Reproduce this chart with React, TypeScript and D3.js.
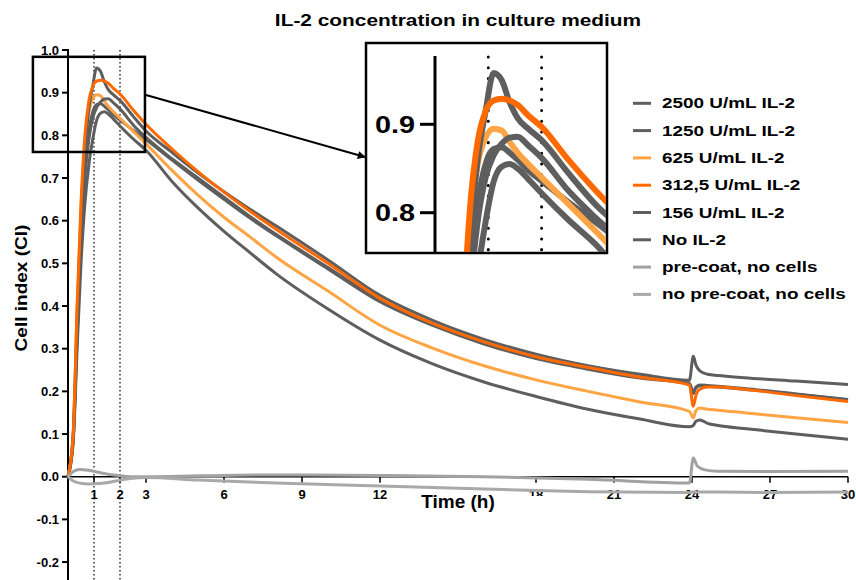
import React from "react";
import * as d3 from "d3";

// time points (h) for the cell wells
const timeH = [0, 0.2, 0.35, 0.5, 0.65, 0.8, 0.95, 1.1, 1.25, 1.4, 1.55, 1.75, 2, 2.5, 3, 4, 5, 6, 7, 8, 10, 12, 14, 16, 18, 20, 22, 23.9, 24.05, 24.15, 24.3, 24.6, 25, 26, 28, 30];

const il2_2500 = [0, 0.1, 0.37, 0.6, 0.76, 0.86, 0.915, 0.958, 0.95, 0.925, 0.907, 0.895, 0.882, 0.845, 0.81, 0.76, 0.712, 0.668, 0.627, 0.588, 0.508, 0.425, 0.367, 0.322, 0.287, 0.26, 0.24, 0.226, 0.282, 0.262, 0.248, 0.24, 0.237, 0.232, 0.224, 0.216];
const il2_1250 = [0, 0.09, 0.33, 0.55, 0.7, 0.79, 0.84, 0.865, 0.878, 0.885, 0.886, 0.876, 0.862, 0.825, 0.795, 0.745, 0.7, 0.655, 0.61, 0.568, 0.49, 0.413, 0.357, 0.313, 0.279, 0.254, 0.233, 0.219, 0.195, 0.21, 0.215, 0.214, 0.212, 0.207, 0.194, 0.181];
const il2_625 = [0, 0.1, 0.39, 0.63, 0.78, 0.855, 0.885, 0.895, 0.893, 0.88, 0.868, 0.855, 0.84, 0.81, 0.78, 0.718, 0.66, 0.608, 0.562, 0.515, 0.435, 0.355, 0.302, 0.26, 0.227, 0.2, 0.175, 0.153, 0.138, 0.155, 0.161, 0.158, 0.156, 0.15, 0.138, 0.127];
const il2_312 = [0, 0.1, 0.4, 0.64, 0.8, 0.88, 0.915, 0.927, 0.929, 0.927, 0.922, 0.91, 0.897, 0.86, 0.826, 0.768, 0.715, 0.667, 0.622, 0.58, 0.5, 0.418, 0.36, 0.316, 0.281, 0.256, 0.233, 0.215, 0.165, 0.19, 0.205, 0.21, 0.21, 0.205, 0.19, 0.176];
const il2_156 = [0, 0.09, 0.34, 0.57, 0.72, 0.81, 0.855, 0.872, 0.874, 0.868, 0.86, 0.848, 0.836, 0.812, 0.79, 0.742, 0.695, 0.65, 0.606, 0.565, 0.487, 0.41, 0.355, 0.311, 0.277, 0.252, 0.231, 0.217, 0.2, 0.208, 0.213, 0.212, 0.21, 0.205, 0.193, 0.18];
const noIl2 = [0, 0.08, 0.3, 0.5, 0.64, 0.73, 0.79, 0.835, 0.852, 0.855, 0.85, 0.838, 0.822, 0.792, 0.765, 0.692, 0.63, 0.575, 0.525, 0.476, 0.393, 0.32, 0.265, 0.222, 0.188, 0.158, 0.135, 0.117, 0.12, 0.13, 0.133, 0.125, 0.12, 0.113, 0.1, 0.088];

// time points (h) for the cell-free controls
const ctrlTime = [0, 0.2, 0.45, 0.8, 1.2, 1.6, 2, 2.4, 3, 5, 8, 12, 16, 20, 23.9, 24.05, 24.2, 24.5, 25, 27, 30];
const preCoat = [0, 0.012, 0.017, 0.015, 0.01, 0.005, 0.002, 0, 0, 0.002, 0.004, 0.003, 0, -0.006, -0.015, 0.044, 0.025, 0.016, 0.013, 0.012, 0.013];
const noPreCoat = [0, -0.01, -0.015, -0.017, -0.016, -0.013, -0.008, -0.004, -0.002, -0.008, -0.015, -0.022, -0.029, -0.035, -0.037, -0.036, -0.036, -0.036, -0.036, -0.037, -0.036];

const seriesNames = ["2500 U/mL IL-2", "1250 U/mL IL-2", "625 U/mL IL-2", "312,5 U/mL IL-2", "156 U/mL IL-2", "No IL-2", "pre-coat, no cells", "no pre-coat, no cells"];
const seriesColors = ["#5e5e5e", "#5e5e5e", "#ffa445", "#ff6a00", "#5e5e5e", "#5e5e5e", "#a2a2a2", "#a9a9a9"];
const drawOrder = [5, 4, 2, 1, 0, 3, 6, 7];

const yTicks = [1.0, 0.9, 0.8, 0.7, 0.6, 0.5, 0.4, 0.3, 0.2, 0.1, 0.0, -0.1, -0.2];
const xTicks = [1, 2, 3, 6, 9, 12, 18, 21, 24, 27, 30];
const markerTimes = [1, 2];
const insetTicks = [0.9, 0.8];

// zoomed region (data units) shown in the inset
const zoomT = [-1.35, 2.96];
const zoomV = [0.761, 0.984];

const FONT = "'Liberation Sans', Arial, Helvetica, sans-serif";

export default function App() {
  const x = d3.scaleLinear().domain([0, 30]).range([68, 848]);
  const y = d3.scaleLinear().domain([0, 1]).range([476.7, 50]);
  const xi = d3.scaleLinear().domain([0, 1]).range([435, 488.3]);
  const yi = d3.scaleLinear().domain([0.8, 0.9]).range([212.7, 124.3]);

  const values = [il2_2500, il2_1250, il2_625, il2_312, il2_156, noIl2, preCoat, noPreCoat];
  const series = seriesNames.map((name, i) => ({
    name,
    color: seriesColors[i],
    t: i < 6 ? timeH : ctrlTime,
    v: values[i],
  }));

  const mainPath = (s) =>
    d3.line<number>().x((_, i) => x(s.t[i])).y((d) => y(d)).curve(d3.curveMonotoneX)(s.v);
  const insetPath = (s) =>
    d3.line<number>().x((_, i) => xi(s.t[i])).y((d) => yi(d)).curve(d3.curveMonotoneX)(s.v);

  const box = { x0: 366, y0: 43, x1: 607, y1: 253 };
  const legendY = (i) => 103.3 + i * 27.3;

  return (
    <svg width={856} height={580} style={{ position: "absolute", left: 0, top: 0, background: "#fff" }} fontFamily={FONT}>
      <defs>
        <clipPath id="insetClip">
          <rect x={436} y={box.y0 + 1} width={box.x1 - 437} height={box.y1 - box.y0 - 2} />
        </clipPath>
        <marker id="arrow" viewBox="0 0 10 10" refX="9" refY="5" markerWidth="11" markerHeight="8" markerUnits="userSpaceOnUse" orient="auto">
          <path d="M0,0 L10,5 L0,10 z" fill="#000" />
        </marker>
      </defs>

      {/* title */}
      <text transform="translate(458,26) scale(1.28,1)" textAnchor="middle" fontSize={16.3} fontWeight="bold">
        IL-2 concentration in culture medium
      </text>

      {/* dotted markers */}
      {markerTimes.map((t) => (
        <line key={t} x1={x(t)} x2={x(t)} y1={50} y2={580} stroke="#222" strokeWidth={1.4} strokeDasharray="1.4 2.6" />
      ))}

      {/* y axis */}
      <line x1={68} x2={68} y1={49} y2={580} stroke="#000" strokeWidth={2} />
      {yTicks.map((v) => (
        <g key={v}>
          <line x1={62} x2={68} y1={y(v)} y2={y(v)} stroke="#000" strokeWidth={2} />
          <text x={59} y={y(v) + 4.6} textAnchor="end" fontSize={13} fontWeight="bold">
            {v.toFixed(1)}
          </text>
        </g>
      ))}
      <text transform="translate(27,288) rotate(-90) scale(1.12,1)" textAnchor="middle" fontSize={17} fontWeight="bold">
        Cell index (CI)
      </text>

      {/* x axis */}
      <line x1={68} x2={848} y1={y(0)} y2={y(0)} stroke="#000" strokeWidth={1.5} />
      {xTicks.map((t) => (
        <g key={t}>
          <line x1={x(t)} x2={x(t)} y1={y(0)} y2={y(0) + 6} stroke="#000" strokeWidth={1.5} />
          <text x={x(t)} y={499} textAnchor="middle" fontSize={13} fontWeight="bold">
            {t}
          </text>
        </g>
      ))}
      <rect x={412} y={496} width={134} height={20} fill="#fff" />
      <text x={458} y={508} textAnchor="middle" fontSize={19} fontWeight="bold">
        Time (h)
      </text>

      {/* series */}
      {drawOrder.map((i) => (
        <path key={i} d={mainPath(series[i])} fill="none" stroke={series[i].color} strokeWidth={3} strokeLinejoin="round" />
      ))}

      {/* zoom box and arrow */}
      <rect
        x={x(zoomT[0])}
        y={y(zoomV[1])}
        width={x(zoomT[1]) - x(zoomT[0])}
        height={y(zoomV[0]) - y(zoomV[1])}
        fill="none"
        stroke="#000"
        strokeWidth={2.5}
      />
      <line x1={x(zoomT[1]) + 1} y1={95} x2={box.x0 - 1} y2={157} stroke="#000" strokeWidth={2} markerEnd="url(#arrow)" />

      {/* inset */}
      <rect x={box.x0} y={box.y0} width={box.x1 - box.x0} height={box.y1 - box.y0} fill="#fff" stroke="#000" strokeWidth={2.5} />
      {markerTimes.map((t) => (
        <line key={t} x1={xi(t)} x2={xi(t)} y1={57} y2={box.y1} stroke="#000" strokeWidth={3} strokeDasharray="0.1 10.6" strokeLinecap="round" />
      ))}
      <g clipPath="url(#insetClip)">
        {drawOrder.slice(0, 6).map((i) => (
          <path key={i} d={insetPath(series[i])} fill="none" stroke={series[i].color} strokeWidth={6} strokeLinejoin="round" />
        ))}
      </g>
      <line x1={435} x2={435} y1={56} y2={box.y1} stroke="#000" strokeWidth={3} />
      {insetTicks.map((v) => (
        <g key={v}>
          <line x1={420} x2={435} y1={yi(v)} y2={yi(v)} stroke="#000" strokeWidth={3} />
          <text transform={`translate(415,${yi(v) + 8.7}) scale(1.2,1)`} textAnchor="end" fontSize={24} fontWeight="bold">
            {v.toFixed(1)}
          </text>
        </g>
      ))}

      {/* legend */}
      {series.map((s, i) => (
        <g key={s.name}>
          <line x1={633} x2={651} y1={legendY(i)} y2={legendY(i)} stroke={s.color} strokeWidth={3} />
          <text transform={`translate(662,${legendY(i) + 5}) scale(1.35,1)`} fontSize={14} fontWeight="bold">
            {s.name}
          </text>
        </g>
      ))}
    </svg>
  );
}
